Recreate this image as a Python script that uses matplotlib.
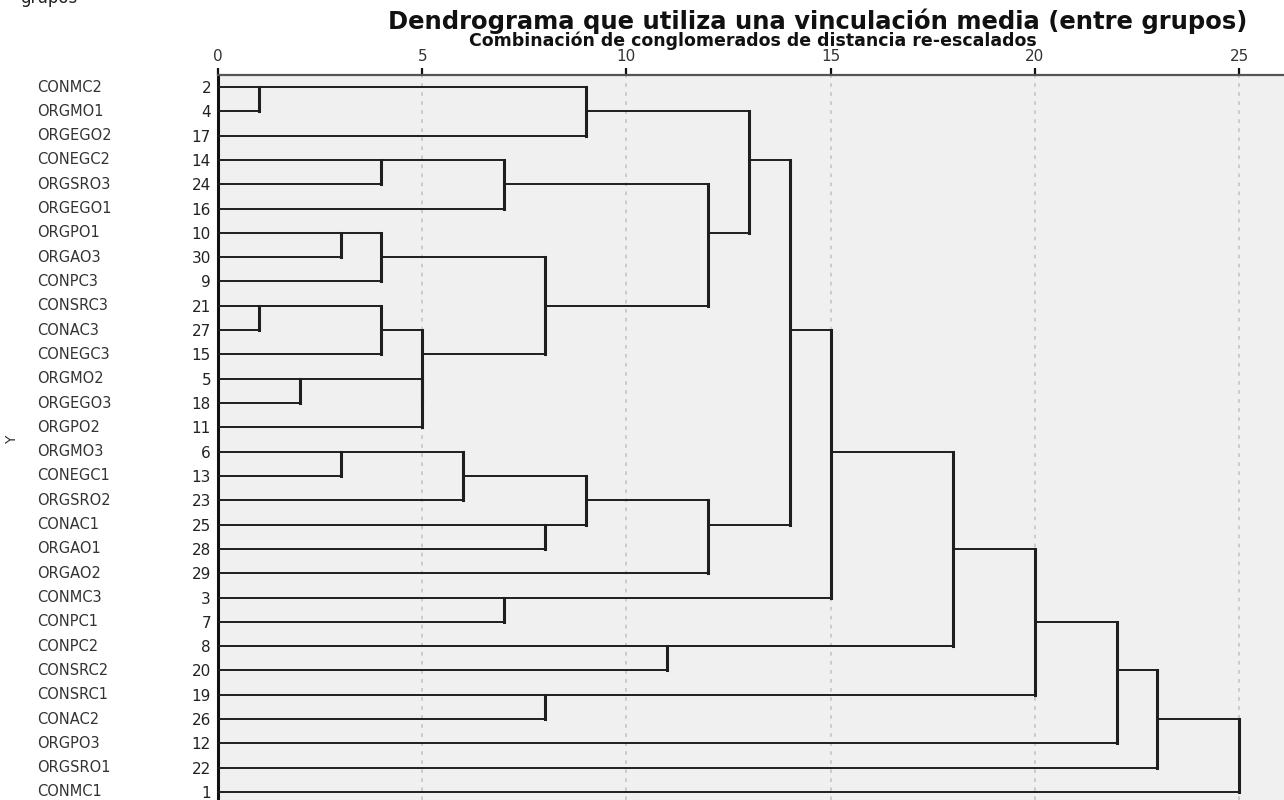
import matplotlib
matplotlib.use('Agg')
import matplotlib.pyplot as plt
from matplotlib.transforms import blended_transform_factory

plt.rcParams['font.family'] = ['DejaVu Sans']

# ---- data ----
leaf_names = ["CONMC2", "ORGMO1", "ORGEGO2", "CONEGC2", "ORGSRO3", "ORGEGO1",
              "ORGPO1", "ORGAO3", "CONPC3", "CONSRC3", "CONAC3", "CONEGC3",
              "ORGMO2", "ORGEGO3", "ORGPO2", "ORGMO3", "CONEGC1", "ORGSRO2",
              "CONAC1", "ORGAO1", "ORGAO2", "CONMC3", "CONPC1", "CONPC2",
              "CONSRC2", "CONSRC1", "CONAC2", "ORGPO3", "ORGSRO1", "CONMC1"]
case_numbers = [2, 4, 17, 14, 24, 16, 10, 30, 9, 21, 27, 15, 5, 18, 11, 6, 13,
                23, 25, 28, 29, 3, 7, 8, 20, 19, 26, 12, 22, 1]
# merges: leaves are 0..29 (display order); merge k creates cluster 30+k
merge_left = [0, 9, 12, 6, 15, 3, 33, 31, 32, 37, 34, 35, 21, 36, 18, 25,
              30, 40, 23, 41, 47, 46, 51, 52, 53, 54, 55, 56, 57]
merge_right = [1, 10, 13, 7, 16, 4, 8, 11, 14, 38, 17, 5, 22, 39, 19, 26,
               2, 44, 24, 43, 20, 49, 50, 42, 48, 45, 27, 28, 29]
merge_dist = [1, 1, 2, 3, 3, 4, 4, 4, 5, 5, 6, 7, 7, 8, 8, 8,
              9, 9, 11, 12, 12, 13, 14, 15, 18, 20, 22, 23, 25]
x_ticks = [0, 5, 10, 15, 20, 25]

title = "Dendrograma que utiliza una vinculación media (entre grupos)"
subtitle = "Combinación de conglomerados de distancia re-escalados"

W, H = 1284, 800
fig = plt.figure(figsize=(W / 100, H / 100), dpi=100)
fig.patch.set_facecolor('white')
ax = fig.add_axes([218 / W, 0, 1 - 218 / W, 1 - 75 / H])
ax.set_facecolor('#f0f0f0')
n = len(leaf_names)
ax.set_xlim(0, 26.1)
ax.set_ylim(29.33, -0.494)

for v in x_ticks[1:]:
    ax.axvline(v, color='#c8c8c8', ls=(0, (2, 3)), lw=1.3, zorder=1)

# compute positions
rows = list(range(n))
xs = [0.0] * n
line_col = '#1e1e1e'
for a, b, d in zip(merge_left, merge_right, merge_dist):
    ra, rb = rows[a], rows[b]
    ax.plot([xs[a], d], [ra, ra], color=line_col, lw=1.4, zorder=3,
            solid_capstyle='butt')
    ax.plot([xs[b], d], [rb, rb], color=line_col, lw=1.4, zorder=3,
            solid_capstyle='butt')
    ax.plot([d, d], [min(ra, rb), max(ra, rb)], color=line_col, lw=2.2,
            zorder=4, solid_capstyle='projecting')
    rows.append((min(ra, rb) + max(ra, rb)) // 2)
    xs.append(d)

for s in ['right', 'bottom']:
    ax.spines[s].set_visible(False)
ax.spines['top'].set_color('#555555')
ax.spines['top'].set_linewidth(1.6)
ax.spines['left'].set_color('#111111')
ax.spines['left'].set_linewidth(2.2)

ax.xaxis.tick_top()
ax.set_xticks(x_ticks)
ax.set_xticklabels([str(t) for t in x_ticks])
ax.tick_params(axis='x', direction='out', length=5, width=1.6, pad=3,
               labelsize=11, colors='#111111', labelcolor='#333333')
ax.set_yticks(range(n))
ax.set_yticklabels([str(c) for c in case_numbers])
ax.tick_params(axis='y', length=0, pad=5, labelsize=11, labelcolor='#222222')

tr = blended_transform_factory(fig.transFigure, ax.transData)
for i, name in enumerate(leaf_names):
    ax.text(37 / W, i, name, transform=tr, ha='left', va='center',
            fontsize=10.5, color='#333333', clip_on=False)

fig.text(818 / W, 1 - 29 / H, title, ha='center', va='baseline',
         fontsize=17.5, fontweight='bold', color='#111111')
fig.text(753 / W, 1 - 46 / H, subtitle, ha='center', va='baseline',
         fontsize=12.5, fontweight='bold', color='#111111')
fig.text(12 / W, 1 - 440 / H, 'Y', rotation=90, ha='center', va='center',
         fontsize=10, color='#333333')
fig.text(20 / W, 1 - 3 / H, 'grupos', ha='left', va='baseline',
         fontsize=12, color='#222222')

fig.savefig('out.png', dpi=100)
